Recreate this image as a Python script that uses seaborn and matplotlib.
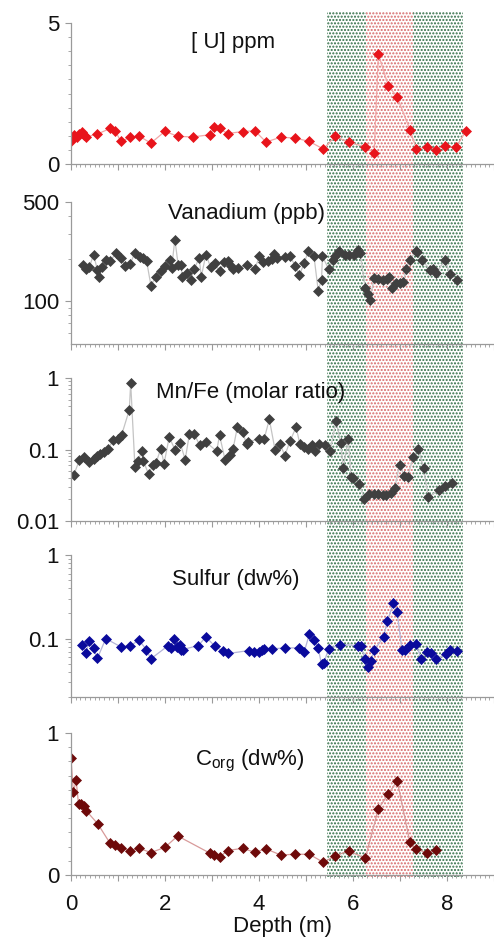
import matplotlib
matplotlib.use("Agg")
import matplotlib.pyplot as plt
import matplotlib.ticker as mticker
import seaborn as sns
import pandas as pd
import numpy as np

# ---------------- data ----------------
u_depth = [0.00, 0.035, 0.06, 0.12, 0.18, 0.23, 0.28, 0.32, 0.56, 0.83, 0.94, 1.06, 1.26, 1.45,
           1.70, 2.00, 2.27, 2.60, 2.96, 3.05, 3.16, 3.33, 3.65, 3.91, 4.15, 4.46, 4.77, 5.07,
           5.37, 5.62, 5.91, 6.26, 6.45, 6.54, 6.75, 6.94, 7.21, 7.35, 7.57, 7.77, 7.96, 8.19, 8.40]
u_ppm = [0.80, 0.92, 1.04, 0.96, 1.08, 1.12, 1.04, 0.96, 1.06, 1.26, 1.18, 0.80, 0.95, 0.99,
         0.74, 1.16, 0.98, 0.96, 1.04, 1.32, 1.26, 1.08, 1.15, 1.18, 0.78, 0.95, 0.92, 0.80,
         0.53, 0.98, 0.77, 0.61, 0.39, 3.90, 2.78, 2.38, 1.22, 0.53, 0.60, 0.51, 0.65, 0.59, 1.16]

v_depth = [0.25, 0.32, 0.39, 0.48, 0.56, 0.60, 0.67, 0.74, 0.83, 0.96, 1.06, 1.15, 1.26, 1.36,
           1.47, 1.54, 1.61, 1.70, 1.80, 1.91, 2.00, 2.11, 2.14, 2.21, 2.28, 2.35, 2.36, 2.46,
           2.55, 2.62, 2.73, 2.77, 2.87, 2.97, 3.06, 3.16, 3.26, 3.33, 3.40, 3.45, 3.55, 3.75,
           3.91, 4.01, 4.09, 4.20, 4.27, 4.32, 4.38, 4.55, 4.66, 4.77, 4.86, 4.96, 5.05, 5.17,
           5.26, 5.33, 5.35, 5.48, 5.57, 5.62, 5.71, 5.83, 5.92, 6.02, 6.11, 6.15, 6.26, 6.31,
           6.36, 6.45, 6.54, 6.63, 6.72, 6.77, 6.84, 6.91, 7.00, 7.07, 7.13, 7.21, 7.34, 7.37,
           7.46, 7.64, 7.70, 7.77, 7.96, 8.06, 8.21]
v_ppb = [181, 169, 174, 213, 167, 148, 174, 196, 191, 219, 202, 178, 184, 219,
         204, 202, 191, 129, 148, 163, 178, 196, 171, 272, 181, 181, 148, 158,
         142, 169, 202, 148, 213, 174, 186, 163, 188, 193, 176, 169, 171, 181,
         169, 207, 188, 191, 199, 215, 202, 204, 207, 178, 152, 186, 225, 207,
         119, 142, 207, 169, 196, 207, 225, 210, 210, 210, 231, 219, 124, 113,
         102, 146, 144, 142, 144, 148, 123, 135, 135, 136, 169, 196, 225, 221,
         196, 167, 169, 158, 196, 156, 142]

mn_depth = [0.06, 0.18, 0.28, 0.39, 0.49, 0.56, 0.62, 0.70, 0.79, 0.90, 0.99, 1.08, 1.24, 1.27,
            1.36, 1.43, 1.50, 1.54, 1.65, 1.75, 1.81, 1.91, 1.98, 2.09, 2.21, 2.32, 2.43, 2.52,
            2.62, 2.74, 2.87, 3.10, 3.16, 3.28, 3.38, 3.45, 3.54, 3.65, 3.74, 3.77, 3.99, 4.11,
            4.22, 4.34, 4.45, 4.55, 4.66, 4.79, 4.87, 4.96, 5.04, 5.12, 5.19, 5.28, 5.40, 5.51,
            5.64, 5.74, 5.79, 5.90, 5.96, 6.01, 6.13, 6.24, 6.35, 6.45, 6.54, 6.63, 6.70, 6.80,
            6.89, 6.99, 7.09, 7.16, 7.28, 7.39, 7.50, 7.60, 7.84, 7.96, 8.10]
mn_fe = [0.0446, 0.0708, 0.0789, 0.0671, 0.0739, 0.0806, 0.0869, 0.0917, 0.103, 0.135, 0.141,
         0.162, 0.357, 0.846, 0.057, 0.0686, 0.0947, 0.0686, 0.0455, 0.0615, 0.065, 0.103,
         0.0636, 0.149, 0.100, 0.124, 0.0724, 0.166, 0.166, 0.114, 0.127, 0.0947, 0.159,
         0.0708, 0.0832, 0.103, 0.206, 0.175, 0.118, 0.127, 0.141, 0.141, 0.264, 0.100, 0.118,
         0.0823, 0.131, 0.206, 0.118, 0.109, 0.102, 0.114, 0.0947, 0.118, 0.114, 0.0947, 0.250,
         0.124, 0.0552, 0.138, 0.0413, 0.040, 0.0333, 0.0205, 0.024, 0.024, 0.0238, 0.0233,
         0.0231, 0.0246, 0.0292, 0.0616, 0.0431, 0.0413, 0.078, 0.102, 0.0552, 0.022, 0.0268,
         0.0312, 0.034]

s_depth = [0.24, 0.32, 0.39, 0.48, 0.56, 0.74, 1.06, 1.26, 1.45, 1.60, 1.70, 2.07, 2.12, 2.19,
           2.25, 2.32, 2.33, 2.38, 2.71, 2.87, 3.06, 3.23, 3.35, 3.79, 3.89, 3.99, 4.06, 4.11,
           4.27, 4.55, 4.86, 4.96, 5.07, 5.17, 5.26, 5.33, 5.38, 5.48, 5.72, 6.11, 6.16, 6.26,
           6.31, 6.38, 6.45, 6.65, 6.73, 6.86, 6.94, 7.04, 7.11, 7.21, 7.35, 7.45, 7.57, 7.67,
           7.77, 7.98, 8.06, 8.21]
s_dw = [0.0849, 0.0675, 0.0930, 0.0774, 0.0578, 0.100, 0.0796, 0.0825, 0.0955, 0.074, 0.0573,
        0.0825, 0.0774, 0.100, 0.0796, 0.0849, 0.074, 0.074, 0.0825, 0.105, 0.081, 0.0707,
        0.0663, 0.072, 0.0694, 0.0694, 0.0726, 0.0753, 0.0753, 0.0774, 0.0774, 0.0688, 0.112,
        0.0955, 0.0774, 0.049, 0.0513, 0.0753, 0.0849, 0.0825, 0.0825, 0.0573, 0.046, 0.0537,
        0.0726, 0.104, 0.161, 0.266, 0.206, 0.074, 0.074, 0.0849, 0.0864, 0.0563, 0.0688,
        0.0675, 0.0573, 0.0645, 0.0726, 0.0707]

c_depth = [0.00, 0.05, 0.11, 0.16, 0.21, 0.28, 0.32, 0.57, 0.83, 0.94, 1.06, 1.26, 1.45, 1.70,
           2.00, 2.27, 2.96, 3.05, 3.16, 3.33, 3.65, 3.91, 4.15, 4.46, 4.77, 5.07, 5.37, 5.62,
           5.91, 6.26, 6.54, 6.75, 6.94, 7.21, 7.35, 7.57, 7.77]
c_org = [0.824, 0.581, 0.666, 0.499, 0.501, 0.487, 0.454, 0.360, 0.224, 0.212, 0.188, 0.172,
         0.188, 0.158, 0.195, 0.275, 0.153, 0.141, 0.125, 0.172, 0.188, 0.160, 0.184, 0.141,
         0.146, 0.146, 0.089, 0.136, 0.169, 0.118, 0.466, 0.569, 0.664, 0.231, 0.181, 0.158, 0.176]

zones = [(5.45, 6.28, "green"), (6.28, 7.28, "red"), (7.28, 8.33, "green")]

titles = ["[ U] ppm", "Vanadium (ppb)", "Mn/Fe (molar ratio)", "Sulfur (dw%)",
          r"C$_{\mathregular{org}}$ (dw%)"]

# ---------------- style ----------------
sns.set_theme(style="ticks")
plt.rcParams['font.family'] = ['Liberation Sans', 'DejaVu Sans']
plt.rcParams['mathtext.fontset'] = 'custom'
plt.rcParams['mathtext.rm'] = 'Liberation Sans'
plt.rcParams['hatch.linewidth'] = 1.0

W, H = 494, 941
fig = plt.figure(figsize=(W / 100, H / 100), dpi=100)
fig.patch.set_facecolor("white")

left = 71 / W
right = 1.0
XMAX = (W - 71) / 47.0

# background shading axes
bg = fig.add_axes([left, 1 - 877 / H, right - left, (877 - 12) / H], zorder=0)
bg.set_xlim(0, XMAX)
bg.set_ylim(0, 1)
bg.axis("off")
zone_colors = {"green": "#2f6c45", "red": "#d66a6a"}
for x0, x1, c in zones:
    bg.axvspan(x0, x1, facecolor="white", edgecolor=zone_colors[c], hatch=".....",
               linewidth=0)

panels = [(23, 164), (202, 344), (378, 521), (555, 697), (733, 875)]
axes = []
for top, bot in panels:
    ax = fig.add_axes([left, 1 - bot / H, right - left, (bot - top) / H], zorder=2)
    ax.set_facecolor("none")
    axes.append(ax)

series = [
    (u_depth, u_ppm, "#e8141b", "#f2a6a6"),
    (v_depth, v_ppb, "#404040", "#c4c4c4"),
    (mn_depth, mn_fe, "#404040", "#c4c4c4"),
    (s_depth, s_dw, "#0a0a9c", "#b4b4d8"),
    (c_depth, c_org, "#6e0a0a", "#d89a9a"),
]

for ax, (xd, yd, mc, lc) in zip(axes, series):
    df = pd.DataFrame({"depth": xd, "val": yd})
    sns.lineplot(data=df, x="depth", y="val", ax=ax, estimator=None, sort=False,
                 color=lc, linewidth=0.9, marker="D", markersize=5.5,
                 markerfacecolor=mc, markeredgecolor=mc, markeredgewidth=0.5)

spine_c = "#9a9a9a"
for i, ax in enumerate(axes):
    ax.set_xlim(0, XMAX)
    for s in ["top", "right"]:
        ax.spines[s].set_visible(False)
    for s in ["left", "bottom"]:
        ax.spines[s].set_color(spine_c)
        ax.spines[s].set_linewidth(0.9)
    ax.xaxis.set_major_locator(mticker.MultipleLocator(1))
    ax.xaxis.set_minor_locator(mticker.MultipleLocator(0.1))
    ax.tick_params(axis="both", which="both", bottom=True, left=True, top=False, right=False)
    ax.tick_params(axis="both", which="major", direction="out", length=4.5, width=0.8,
                   color=spine_c, labelsize=16, labelcolor="#111111", pad=4)
    ax.tick_params(axis="both", which="minor", direction="out", length=2.2, width=0.6,
                   color=spine_c)
    ax.set_xlabel("")
    ax.set_ylabel("")
    if i < 4:
        ax.tick_params(axis="x", labelbottom=False)

# panel 1: U
a = axes[0]
a.set_ylim(0, 5)
a.set_yticks([0, 5])
a.yaxis.set_minor_locator(mticker.MultipleLocator(0.5))

# panel 2: V (log)
a = axes[1]
a.set_yscale("log")
a.set_ylim(50, 500)
a.set_yticks([100, 500])
a.set_yticklabels(["100", "500"])
a.yaxis.set_minor_locator(mticker.FixedLocator([60, 70, 80, 90, 200, 300, 400]))
a.yaxis.set_minor_formatter(mticker.NullFormatter())

# panel 3: Mn/Fe (log)
a = axes[2]
a.set_yscale("log")
a.set_ylim(0.01, 1)
a.set_yticks([0.01, 0.1, 1])
a.set_yticklabels(["0.01", "0.1", "1"])
a.yaxis.set_minor_locator(mticker.LogLocator(base=10, subs=np.arange(2, 10)))
a.yaxis.set_minor_formatter(mticker.NullFormatter())

# panel 4: S (log)
a = axes[3]
a.set_yscale("log")
a.set_ylim(0.02, 1)
a.set_yticks([0.1, 1])
a.set_yticklabels(["0.1", "1"])
a.yaxis.set_minor_locator(mticker.LogLocator(base=10, subs=np.arange(2, 10)))
a.yaxis.set_minor_formatter(mticker.NullFormatter())

# panel 5: Corg
a = axes[4]
a.set_ylim(0, 1)
a.set_yticks([0, 1])
a.set_yticklabels(["0", "1"])
a.yaxis.set_minor_locator(mticker.MultipleLocator(0.1))
a.xaxis.set_major_formatter(mticker.FuncFormatter(
    lambda v, p: f"{int(round(v))}" if int(round(v)) % 2 == 0 else ""))
a.tick_params(axis="x", which="major", pad=9)
a.set_xlabel("Depth (m)", fontsize=16, labelpad=1, color="#111111")

title_pos = [(3.45, 0.86), (3.74, 0.92), (3.83, 0.90), (3.50, 0.83), (3.81, 0.80)]
for ax, t, (tx, ty) in zip(axes, titles, title_pos):
    ax.text(tx, ty, t, transform=ax.get_xaxis_transform(), ha="center", va="center",
            fontsize=16, color="#111111")

fig.savefig("out.png", dpi=100, facecolor="white")
